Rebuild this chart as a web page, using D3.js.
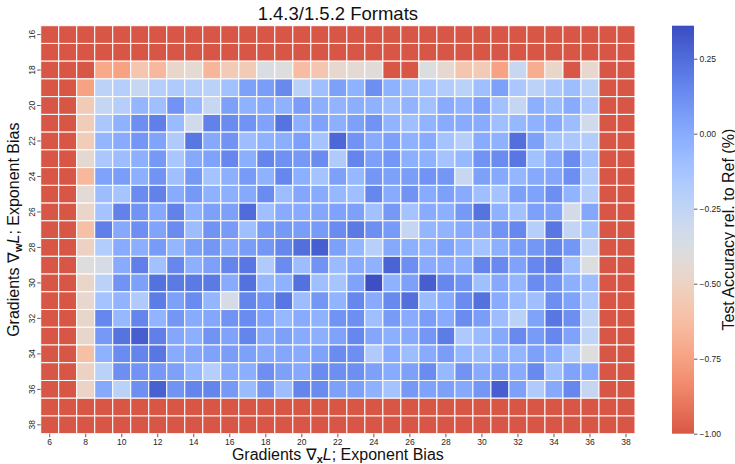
<!DOCTYPE html>
<html>
<head>
<meta charset="utf-8">
<script src="https://d3js.org/d3.v7.min.js"></script>
<style>
  body { margin: 0; background: #ffffff; }
  svg { font-family: "Liberation Sans", Arial, sans-serif; }
</style>
</head>
<body>
<div id="chart"></div>
<script>
// x: gradients dx exponent bias, y: gradients dw exponent bias
var xBias = d3.range(6, 39);
var yBias = d3.range(16, 39);
var xTickLabels = [6, 8, 10, 12, 14, 16, 18, 20, 22, 24, 26, 28, 30, 32, 34, 36, 38];
var yTickLabels = [16, 18, 20, 22, 24, 26, 28, 30, 32, 34, 36, 38];
var cbarTicks = [-1.0, -0.75, -0.5, -0.25, 0.0, 0.25];

// test accuracy rel. to ref (%), one row per y bias (16..38), columns x bias 6..38
var accuracy = [
  [-1,-1,-1,-1,-1,-1,-1,-1,-1,-1,-1,-1,-1,-1,-1,-1,-1,-1,-1,-1,-1,-1,-1,-1,-1,-1,-1,-1,-1,-1,-1,-1,-1],
  [-1,-1,-1,-1,-1,-1,-1,-1,-1,-1,-1,-1,-1,-1,-1,-1,-1,-1,-1,-1,-1,-1,-1,-1,-1,-1,-1,-1,-1,-1,-1,-1,-1],
  [-1,-1,-1,-0.72,-0.75,-0.58,-0.65,-0.47,-0.44,-0.66,-0.55,-0.55,-0.37,-0.4,-0.63,-0.58,-0.46,-0.44,-0.42,-1,-1,-0.39,-0.45,-0.58,-0.55,-0.75,-0.28,-0.7,-0.48,-1,-0.46,-1,-1],
  [-1,-1,-0.75,-0.23,-0.2,-0.28,-0.2,-0.17,-0.19,-0.22,-0.11,0.05,0.06,0.14,-0.22,-0.1,0.05,-0.03,0.12,-0.03,-0.09,-0.12,-0.18,-0.22,-0.1,0.05,-0.15,-0.23,-0.15,-0.09,-0.22,-1,-1],
  [-1,-1,-0.55,-0.27,-0.2,-0.05,-0.1,0.1,-0.07,-0.28,0.05,-0.03,0.0,-0.03,0.06,-0.02,-0.04,-0.01,-0.03,-0.09,-0.04,-0.11,0.0,-0.04,0.04,-0.11,-0.27,-0.02,-0.08,0.0,-0.15,-1,-1],
  [-1,-1,-0.54,-0.15,-0.03,0.12,0.18,-0.08,-0.33,0.17,0.13,0.1,0.04,0.22,-0.02,0.04,-0.02,0.05,0.1,-0.04,-0.1,-0.04,0.0,0.0,0.0,-0.1,-0.06,-0.03,0.0,-0.09,-0.33,-1,-1],
  [-1,-1,-0.54,-0.05,0.0,0.09,0.03,-0.17,0.21,0.01,0.1,-0.09,-0.03,-0.01,0.05,-0.12,0.27,0.1,0.0,0.05,-0.03,0.0,-0.12,-0.2,0.0,-0.03,0.24,0.05,-0.13,-0.15,-0.18,-1,-1],
  [-1,-1,-0.45,-0.15,-0.09,-0.02,0.08,-0.14,0.01,0.04,0.15,-0.01,0.16,0.11,0.08,0.13,-0.17,0.16,0.05,0.09,-0.02,-0.03,-0.12,-0.06,0.1,0.13,0.21,-0.11,0.01,0.13,-0.1,-1,-1],
  [-1,-1,-0.65,0.04,0.06,-0.02,0.1,-0.1,0.08,-0.12,-0.02,0.07,-0.03,0.15,-0.02,-0.12,0.05,-0.06,0.09,0.05,0.06,0.1,0.09,-0.28,0.05,0.01,-0.05,0.01,0.02,0.12,-0.17,-1,-1],
  [-1,-1,-0.43,-0.09,-0.13,0.13,0.17,0.0,0.08,-0.03,-0.02,0.01,0.13,-0.09,0.02,0.0,-0.06,-0.1,0.15,0.0,0.1,0.0,0.05,0.0,-0.1,-0.12,0.05,0.04,0.12,-0.04,-0.19,-1,-1],
  [-1,-1,-0.48,-0.12,0.17,0.1,0.01,0.17,-0.03,0.05,0.05,0.25,-0.1,0.0,0.0,0.02,0.04,0.05,-0.11,0.08,-0.12,0.0,-0.02,0.08,0.22,-0.03,-0.11,0.05,0.04,-0.34,0.02,-1,-1],
  [-1,-1,-0.61,0.18,0.01,0.12,0.03,0.13,-0.09,0.1,0.07,-0.1,0.07,0.08,0.06,0.07,0.13,0.2,0.12,0.07,-0.27,-0.05,-0.04,0.0,0.01,0.1,0.15,-0.2,0.21,-0.26,-0.11,-1,-1],
  [-1,-1,-0.5,-0.18,0.0,-0.01,0.07,-0.05,0.05,0.09,0.01,0.06,0.09,0.15,0.24,0.3,0.05,-0.05,-0.21,0.01,-0.02,-0.04,0.04,-0.03,-0.12,-0.02,0.06,0.09,0.16,0.09,-0.26,-1,-1],
  [-1,-1,-0.4,-0.36,0.0,0.18,-0.11,0.15,-0.02,0.05,0.16,0.21,-0.17,0.13,-0.09,0.1,-0.08,0.0,-0.03,0.28,0.12,0.0,0.0,-0.01,0.16,0.14,0.04,0.15,0.2,-0.1,-0.39,-1,-1],
  [-1,-1,-0.48,-0.22,0.1,0.05,0.23,0.2,0.2,0.2,0.0,0.23,-0.06,-0.03,0.23,-0.1,-0.13,0.04,0.35,-0.03,0.05,0.3,0.15,0.1,-0.1,0.01,-0.05,0.13,0.1,-0.02,-0.09,-1,-1],
  [-1,-1,-0.46,-0.12,-0.04,-0.17,0.19,0.05,0.13,-0.05,-0.36,0.16,0.1,0.21,-0.09,0.09,-0.04,0.15,0.0,0.14,0.24,-0.08,0.0,0.13,0.23,0.0,-0.08,-0.1,0.12,0.04,-0.15,-1,-1],
  [-1,-1,-0.47,0.15,-0.06,0.16,-0.04,0.09,0.0,0.02,0.1,0.13,0.04,-0.06,0.0,-0.03,0.1,0.12,-0.1,0.07,0.0,0.06,0.0,0.13,0.06,-0.09,-0.22,0.04,0.21,0.12,-0.25,-1,-1],
  [-1,-1,-0.47,0.08,0.22,0.3,0.18,0.02,-0.02,0.1,0.04,0.16,0.01,0.05,0.0,-0.02,0.04,0.15,0.02,-0.02,0.01,0.09,0.19,-0.16,-0.08,0.01,0.14,0.07,0.15,0.04,-0.25,-1,-1],
  [-1,-1,-0.61,-0.03,0.13,0.16,0.21,0.0,0.02,0.04,0.06,0.05,0.01,0.02,0.0,0.04,0.13,0.12,-0.17,0.0,-0.09,0.0,0.06,-0.06,-0.09,-0.03,-0.05,0.05,0.0,-0.17,-0.4,-1,-1],
  [-1,-1,-0.5,-0.22,0.12,0.1,0.08,0.05,-0.06,-0.2,0.0,-0.01,0.12,0.05,0.01,0.13,0.12,0.12,0.05,0.0,0.05,0.13,-0.06,0.1,0.0,0.05,0.0,0.14,-0.1,0.04,0.0,-1,-1],
  [-1,-1,-0.49,0.01,-0.22,0.12,0.29,0.1,0.16,0.16,0.08,-0.08,0.09,-0.09,0.16,0.13,0.05,0.05,-0.03,-0.12,0.08,0.04,0.05,0.01,0.09,0.3,0.05,-0.17,0.01,0.15,-0.27,-1,-1],
  [-1,-1,-1,-1,-1,-1,-1,-1,-1,-1,-1,-1,-1,-1,-1,-1,-1,-1,-1,-1,-1,-1,-1,-1,-1,-1,-1,-1,-1,-1,-1,-1,-1],
  [-1,-1,-1,-1,-1,-1,-1,-1,-1,-1,-1,-1,-1,-1,-1,-1,-1,-1,-1,-1,-1,-1,-1,-1,-1,-1,-1,-1,-1,-1,-1,-1,-1]
];

var width = 735, height = 464;
var margin = {left: 40.7, top: 25.7, right: 100, bottom: 30.3};
var plotRight = 635;
var plotBottom = height - margin.bottom;

// coolwarm (Moreland) lookup, reversed below so high = blue
var coolwarm = ["#3b4cc0","#445acc","#4d68d7","#5775e1","#6282ea","#6c8ef1","#779af7","#82a5fb",
  "#8db0fe","#98b9ff","#a3c2ff","#aec9fd","#b8d0f9","#c2d5f4","#ccd9ee","#d5dbe6","#dddddd",
  "#e5d8d1","#ecd3c5","#f1ccb8","#f5c4ac","#f7bba0","#f7b194","#f7a687","#f49a7b","#f18d6f",
  "#ec7f63","#e57058","#de604d","#d55042","#cb3e38","#c0282f","#b40426"];
var vmin = -1.0, vmax = 0.36, center = -0.4;
var vrange = Math.max(vmax - center, center - vmin);
var cmapScale = d3.scaleLinear()
  .domain(d3.range(coolwarm.length).map(function(i) { return i / (coolwarm.length - 1); }))
  .range(coolwarm)
  .interpolate(d3.interpolateRgb);
var norm = d3.scaleLinear().domain([center - vrange, center + vrange]).range([1, 0]);
function color(v) { return cmapScale(norm(v)); }

var svg = d3.select("#chart").append("svg")
  .attr("width", width)
  .attr("height", height);

var x_scale = d3.scaleBand().domain(xBias).range([margin.left, plotRight]);
var y_scale = d3.scaleBand().domain(yBias).range([margin.top, plotBottom]);

// cells
var cells = [];
for (var j = 0; j < yBias.length; j++) {
  for (var i = 0; i < xBias.length; i++) {
    cells.push({x: xBias[i], y: yBias[j], v: accuracy[j][i]});
  }
}
svg.append("g").attr("class", "cells")
  .selectAll("rect")
  .data(cells)
  .enter()
  .append("rect")
  .attr("x", function(d) { return x_scale(d.x); })
  .attr("y", function(d) { return y_scale(d.y); })
  .attr("width", x_scale.bandwidth())
  .attr("height", y_scale.bandwidth())
  .attr("fill", function(d) { return color(d.v); })
  .attr("stroke", "#ffffff")
  .attr("stroke-width", 1);

// axes
var xAxis = d3.axisBottom(x_scale).tickValues(xTickLabels).tickSize(3.5).tickPadding(2);
var gx = svg.append("g")
  .attr("transform", "translate(0," + plotBottom + ")")
  .call(xAxis);
gx.select(".domain").remove();
gx.selectAll(".tick line").attr("stroke", "#333333").attr("stroke-width", 0.8);
gx.selectAll("text").attr("font-size", "8.5px").attr("fill", "#262626")
  .attr("font-family", "Liberation Sans, Arial, sans-serif");

var yAxis = d3.axisLeft(y_scale).tickValues(yTickLabels).tickSize(3.5).tickPadding(2);
var gy = svg.append("g")
  .attr("transform", "translate(" + margin.left + ",0)")
  .call(yAxis);
gy.select(".domain").remove();
gy.selectAll(".tick line").attr("stroke", "#333333").attr("stroke-width", 0.8);
gy.selectAll("text")
  .attr("font-size", "8.5px").attr("fill", "#262626")
  .attr("font-family", "Liberation Sans, Arial, sans-serif")
  .attr("text-anchor", "middle")
  .attr("dy", null)
  .attr("x", -9)
  .attr("y", 0)
  .attr("transform", "rotate(-90,-9,0)")
  .attr("dominant-baseline", "central");

// title
svg.append("text")
  .attr("x", (margin.left + plotRight) / 2)
  .attr("y", 20)
  .attr("text-anchor", "middle")
  .attr("font-size", "18.5px")
  .attr("fill", "#111111")
  .text("1.4.3/1.5.2 Formats");

// x label
var xl = svg.append("text")
  .attr("x", (margin.left + plotRight) / 2)
  .attr("y", 460)
  .attr("text-anchor", "middle")
  .attr("font-size", "16px")
  .attr("fill", "#111111");
xl.append("tspan").text("Gradients \u2207");
xl.append("tspan").attr("font-weight", "bold").attr("font-size", "11px").attr("dy", 3).text("x");
xl.append("tspan").attr("font-style", "italic").attr("dy", -3).text("L");
xl.append("tspan").text("; Exponent Bias");

// y label
var yc = (margin.top + plotBottom) / 2;
var yl = svg.append("text")
  .attr("transform", "translate(19," + yc + ") rotate(-90)")
  .attr("text-anchor", "middle")
  .attr("font-size", "16px")
  .attr("fill", "#111111");
yl.append("tspan").text("Gradients \u2207");
yl.append("tspan").attr("font-weight", "bold").attr("font-size", "11px").attr("dy", 3).text("w");
yl.append("tspan").attr("font-style", "italic").attr("dy", -3).text("L");
yl.append("tspan").text("; Exponent Bias");

// colorbar
var cbX = 672, cbW = 22;
var cb_scale = d3.scaleLinear().domain([vmin, vmax]).range([plotBottom, margin.top]);
var defs = svg.append("defs");
var grad = defs.append("linearGradient")
  .attr("id", "cbgrad")
  .attr("x1", 0).attr("y1", 1).attr("x2", 0).attr("y2", 0);
var nStops = 60;
for (var s = 0; s <= nStops; s++) {
  var v = vmin + (vmax - vmin) * s / nStops;
  grad.append("stop").attr("offset", (s / nStops * 100) + "%").attr("stop-color", color(v));
}
svg.append("rect")
  .attr("x", cbX).attr("y", margin.top)
  .attr("width", cbW).attr("height", plotBottom - margin.top)
  .attr("fill", "url(#cbgrad)");

var cbAxis = d3.axisRight(cb_scale).tickValues(cbarTicks).tickSize(3.5).tickPadding(2)
  .tickFormat(function(d) { return d3.format(".2f")(d).replace("-", "\u2212"); });
var gcb = svg.append("g")
  .attr("transform", "translate(" + (cbX + cbW) + ",0)")
  .call(cbAxis);
gcb.select(".domain").remove();
gcb.selectAll(".tick line").attr("stroke", "#333333").attr("stroke-width", 0.8);
gcb.selectAll("text").attr("font-size", "8.5px").attr("fill", "#262626")
  .attr("font-family", "Liberation Sans, Arial, sans-serif");

svg.append("text")
  .attr("transform", "translate(728," + yc + ") rotate(-90)")
  .attr("text-anchor", "middle")
  .attr("dominant-baseline", "central")
  .attr("font-size", "16px")
  .attr("fill", "#111111")
  .text("Test Accuracy rel. to Ref (%)");
</script>
</body>
</html>
